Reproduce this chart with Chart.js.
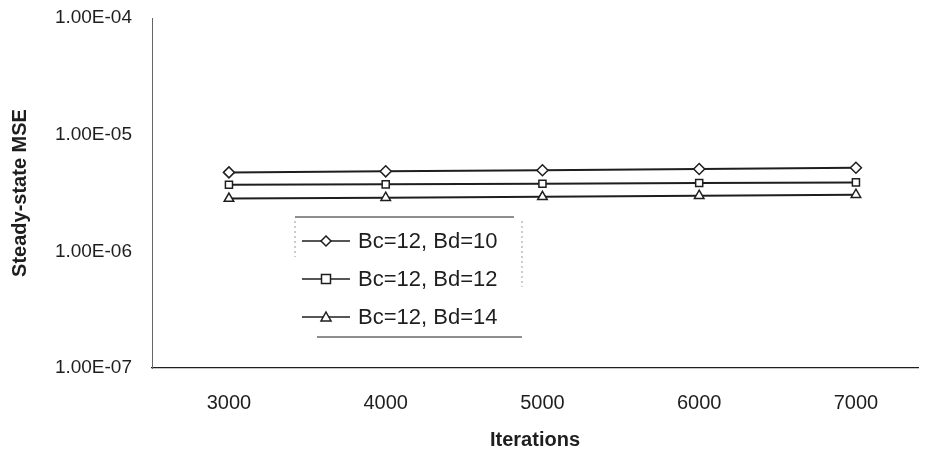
<!DOCTYPE html>
<html>
<head>
<meta charset="utf-8">
<script src="https://cdn.jsdelivr.net/npm/chart.js@4/dist/chart.umd.min.js"></script>
<style>
  html, body { margin: 0; padding: 0; background: #fff; }
  #wrap { width: 925px; height: 453px; position: relative; }
</style>
</head>
<body>
<div id="wrap"><canvas id="myChart"></canvas></div>
<script>
// data
var iterations = [3000, 4000, 5000, 6000, 7000];
var mseBd10 = [4.75e-6, 4.85e-6, 4.95e-6, 5.08e-6, 5.2e-6];
var mseBd12 = [3.72e-6, 3.75e-6, 3.8e-6, 3.85e-6, 3.9e-6];
var mseBd14 = [2.83e-6, 2.88e-6, 2.93e-6, 3.0e-6, 3.06e-6];
var seriesNames = ["Bc=12, Bd=10", "Bc=12, Bd=12", "Bc=12, Bd=14"];
var yTicks = [1e-7, 1e-6, 1e-5, 1e-4];
var yTickLabels = ["1.00E-07", "1.00E-06", "1.00E-05", "1.00E-04"];

var ink = "#1e1e1e";
var fontFam = "'Liberation Sans', Arial, sans-serif";

function pts(vals) {
  return vals.map(function (v, i) { return { x: iterations[i], y: v }; });
}

function drawMarker(ctx, style, x, y, r) {
  ctx.beginPath();
  if (style === "rectRot") {
    ctx.moveTo(x, y - r); ctx.lineTo(x + r, y); ctx.lineTo(x, y + r); ctx.lineTo(x - r, y);
  } else if (style === "rect") {
    ctx.rect(x - r * 0.9, y - r * 0.9, r * 1.8, r * 1.8);
  } else {
    ctx.moveTo(x, y - r); ctx.lineTo(x + r, y + r * 0.8); ctx.lineTo(x - r, y + r * 0.8);
  }
  ctx.closePath();
  ctx.fill();
  ctx.stroke();
}

// legend box drawn inside the plot, like the original
var boxLegend = {
  id: "boxLegend",
  afterDraw: function (chart) {
    var ctx = chart.ctx;
    var left = 295, right = 522, top = 217, bottom = 337;
    ctx.save();
    ctx.strokeStyle = ink;
    ctx.lineWidth = 1;
    ctx.beginPath();
    ctx.moveTo(left, top); ctx.lineTo(right - 8, top);
    ctx.moveTo(left + 22, bottom); ctx.lineTo(right, bottom);
    ctx.stroke();
    ctx.strokeStyle = "#999";
    ctx.setLineDash([2, 3]);
    ctx.beginPath();
    ctx.moveTo(left, top + 4); ctx.lineTo(left, top + 40);
    ctx.moveTo(right, top + 4); ctx.lineTo(right, top + 70);
    ctx.stroke();
    ctx.setLineDash([]);
    ctx.font = "22px " + fontFam;
    ctx.textBaseline = "middle";
    ctx.fillStyle = ink;
    chart.data.datasets.forEach(function (ds, i) {
      var y = 241 + i * 38;
      ctx.strokeStyle = ink;
      ctx.lineWidth = 1.5;
      ctx.beginPath();
      ctx.moveTo(302, y); ctx.lineTo(350, y);
      ctx.stroke();
      ctx.fillStyle = "#fff";
      drawMarker(ctx, ds.pointStyle, 326, y, 5);
      ctx.fillStyle = ink;
      ctx.fillText(ds.label, 358, y + 1);
    });
    ctx.restore();
  }
};

var ctx = document.getElementById("myChart").getContext("2d");
var myChart = new Chart(ctx, {
  type: "line",
  data: {
    datasets: [
      { label: seriesNames[0], data: pts(mseBd10), pointStyle: "rectRot", pointRadius: 5.5 },
      { label: seriesNames[1], data: pts(mseBd12), pointStyle: "rect", pointRadius: 5 },
      { label: seriesNames[2], data: pts(mseBd14), pointStyle: "triangle", pointRadius: 5.5 }
    ].map(function (d) {
      d.borderColor = ink;
      d.borderWidth = 2;
      d.backgroundColor = "#fff";
      d.pointBackgroundColor = "#fff";
      d.pointBorderColor = ink;
      d.pointBorderWidth = 1.5;
      d.fill = false;
      d.clip = false;
      return d;
    })
  },
  options: {
    responsive: true,
    maintainAspectRatio: false,
    animation: false,
    layout: { padding: 0 },
    plugins: { legend: { display: false }, tooltip: { enabled: false } },
    scales: {
      x: {
        type: "linear",
        min: 2509,
        max: 7396,
        afterBuildTicks: function (scale) {
          scale.ticks = iterations.map(function (v) { return { value: v }; });
        },
        afterFit: function (scale) {
          scale.height = 85;
          scale.paddingRight = 0;
        },
        grid: { display: false, drawTicks: false },
        border: { display: true, color: ink, width: 1.2 },
        ticks: {
          padding: 23,
          color: ink,
          font: { family: fontFam, size: 20 },
          callback: function (v) { return String(v); }
        },
        title: {
          display: true,
          text: "Iterations",
          color: ink,
          font: { family: fontFam, size: 20, weight: "bold" },
          padding: { top: 4, bottom: 1 }
        }
      },
      y: {
        type: "logarithmic",
        min: 1e-7,
        max: 1e-4,
        afterBuildTicks: function (scale) {
          scale.ticks = yTicks.map(function (v) { return { value: v }; });
        },
        afterFit: function (scale) {
          scale.width = 152;
          scale.paddingTop = 18;
          scale.paddingBottom = 0;
        },
        grid: { display: false, drawTicks: false },
        border: { display: true, color: "#666", width: 1, dash: [2, 4] },
        ticks: {
          padding: 20,
          color: ink,
          font: { family: fontFam, size: 19 },
          callback: function (v) {
            var i = yTicks.indexOf(v);
            return i >= 0 ? yTickLabels[i] : "";
          }
        },
        title: {
          display: true,
          text: "Steady-state MSE",
          color: ink,
          font: { family: fontFam, size: 20, weight: "bold" },
          padding: { top: 8, bottom: 4 }
        }
      }
    }
  },
  plugins: [boxLegend]
});
</script>
</body>
</html>
